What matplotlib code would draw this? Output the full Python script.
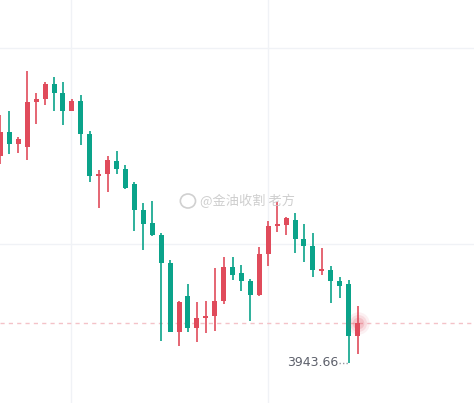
import numpy as np
import matplotlib.pyplot as plt
from matplotlib.patches import Ellipse

# candle data (index 0 is the one cut at the left edge)
opens = [4047.2, 4059.2, 4053.2, 4051.7, 4074.2, 4075.7, 4083.0, 4078.5, 4069.7, 4074.5,
         4058.0, 4037.2, 4038.2, 4044.5, 4040.5, 4033.0, 4020.0, 4013.5, 4007.5, 3993.5,
         3959.2, 3977.0, 3961.2, 3966.2, 3967.2, 3974.7, 3991.5, 3988.5, 3984.5, 3977.7,
         3998.2, 4012.2, 4012.7, 4015.0, 4005.5, 4002.0, 3989.7, 3990.0, 3984.7, 3983.0,
         3957.2]
highs = [4067.5, 4069.5, 4056.5, 4089.5, 4078.5, 4084.0, 4086.5, 4084.0, 4075.5, 4077.5,
         4059.5, 4040.2, 4047.0, 4049.5, 4042.5, 4034.0, 4023.5, 4024.5, 4008.5, 3995.0,
         3974.5, 3983.0, 3974.0, 3974.5, 3991.0, 3996.5, 3996.5, 3992.5, 3985.7, 4001.5,
         4014.5, 4024.0, 4016.5, 4018.5, 4013.0, 4008.5, 4001.0, 3992.0, 3986.5, 3985.0,
         3972.0]
lows = [4043.2, 4048.2, 4048.7, 4045.2, 4063.2, 4072.7, 4069.7, 4062.7, 4069.7, 4052.7,
        4034.2, 4021.2, 4029.2, 4038.2, 4030.5, 4009.7, 4000.2, 4007.2, 3954.7, 3959.2,
        3952.2, 3959.2, 3954.2, 3958.7, 3959.7, 3973.2, 3985.2, 3979.7, 3964.7, 3977.2,
        3992.2, 4009.2, 4007.7, 3998.7, 3994.2, 3986.5, 3987.7, 3973.7, 3976.2, 3943.66,
        3948.2]
closes = [4059.2, 4053.2, 4055.5, 4074.0, 4075.5, 4083.0, 4078.7, 4069.7, 4074.5, 4058.2,
          4037.2, 4037.7, 4045.0, 4040.7, 4031.0, 4020.2, 4013.2, 4007.7, 3993.7, 3959.2,
          3974.0, 3961.2, 3966.0, 3967.0, 3974.5, 3991.5, 3987.7, 3984.7, 3977.7, 3998.0,
          4012.0, 4012.9, 4016.0, 4005.7, 4002.2, 3990.2, 3990.2, 3984.7, 3982.2, 3957.2,
          3963.5]

low_label = "3943.66"
watermark = "@金油收割 老方"

up_color = "#e04b5b"
down_color = "#0aa38a"

plt.rcParams['font.family'] = ['Noto Sans CJK SC', 'DejaVu Sans']

fig = plt.figure(figsize=(4.74, 4.03), dpi=100)
ax = fig.add_axes([0, 0, 1, 1])
ax.set_xlim(-0.056, 53.05)
ax.set_ylim(3923.5, 4125.0)
ax.axis('off')

# faint grid
for gy in [4101.0, 4003.0]:
    ax.axhline(gy, color="#f0f2f6", lw=1.0, zorder=0)
for gx in [7.95, 29.95]:
    ax.axvline(gx, color="#f0f2f6", lw=1.0, zorder=0)

x = np.arange(len(opens))
o = np.array(opens)
h = np.array(highs)
l = np.array(lows)
c = np.array(closes)
cols = [up_color if cc >= oo else down_color for oo, cc in zip(o, c)]

ax.vlines(x, l, h, colors=cols, lw=1.2, zorder=2)
bottoms = np.minimum(o, c)
heights = np.maximum(np.abs(c - o), 0.6)
ax.bar(x, heights, bottom=bottoms, width=0.56, color=cols, zorder=3)

# last price line and pulse
last = closes[-1]
ax.axhline(last, color="#f4c2c8", lw=1.0, ls=(0, (3, 3)), zorder=1)
for s, a in [(260, 0.08), (150, 0.12), (70, 0.18)]:
    ax.scatter([x[-1]], [last], s=s, color=up_color, alpha=a, lw=0, zorder=4)

# lowest point label
i_low = int(np.argmin(l))
ax.plot([i_low - 1.1, i_low], [l[i_low], l[i_low]], color="#9598a1", lw=1.0,
        ls=(0, (1, 1.5)), zorder=2)
ax.text(i_low - 1.2, l[i_low], low_label, ha='right', va='center',
        fontsize=9, color="#5d606b", family=['DejaVu Sans'])

# watermark
ax.add_patch(Ellipse((21.0, 4024.5), 1.7, 7.0, fill=False, ec="#d0d0d0", lw=1.2, zorder=5))
ax.text(22.3, 4024.5, watermark, ha='left', va='center', fontsize=9.5,
        color="#c9c9c9", alpha=0.9, zorder=5)

fig.savefig("out.png", dpi=100)
